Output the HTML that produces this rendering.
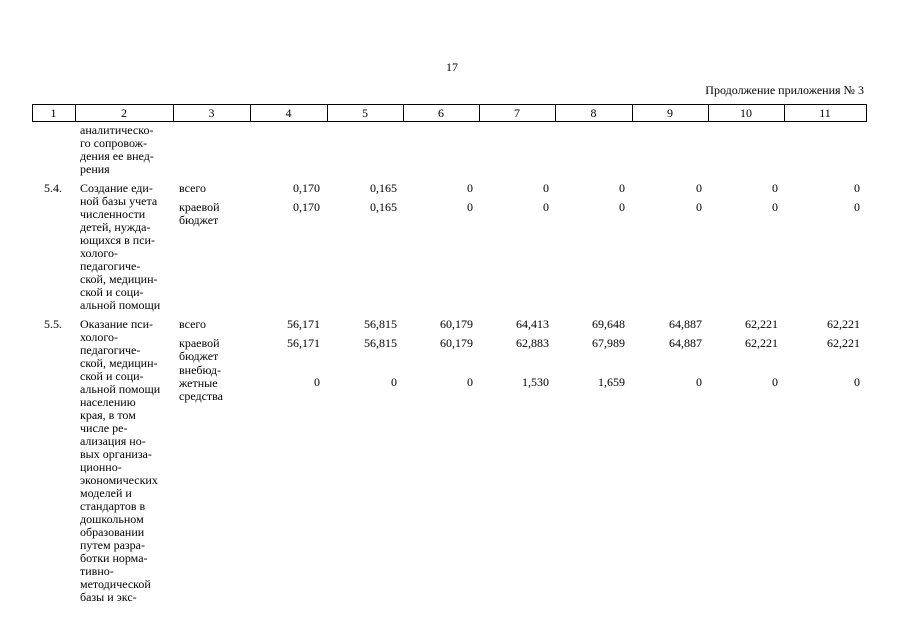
<!DOCTYPE html>
<html><head><meta charset="utf-8"><style>
body{margin:0;background:#fff;width:905px;height:640px;position:relative;overflow:hidden;font-family:"Liberation Serif",serif;font-size:12px;color:#000;line-height:13px}
.a{position:absolute;white-space:nowrap}
.r{position:absolute;text-align:right;width:70px;white-space:nowrap}
.v{position:absolute;top:104px;height:17px;border-left:1px solid #000}
.h{position:absolute;top:105px;height:16px;line-height:16px;text-align:center}
</style></head><body>
<div class="a" style="left:446px;top:61px;font-size:12px">17</div>
<div class="a" style="right:41px;top:84px;font-size:12px">Продолжение приложения № 3</div>
<div style="position:absolute;left:32px;top:104px;width:833px;height:16px;border:1px solid #000"></div>
<div class="v" style="left:75px"></div><div class="v" style="left:173px"></div><div class="v" style="left:250px"></div><div class="v" style="left:327px"></div><div class="v" style="left:403px"></div><div class="v" style="left:479px"></div><div class="v" style="left:555px"></div><div class="v" style="left:632px"></div><div class="v" style="left:708px"></div><div class="v" style="left:784px"></div>
<div class="h" style="left:32px;width:43px">1</div><div class="h" style="left:75px;width:98px">2</div><div class="h" style="left:173px;width:77px">3</div><div class="h" style="left:250px;width:77px">4</div><div class="h" style="left:327px;width:76px">5</div><div class="h" style="left:403px;width:76px">6</div><div class="h" style="left:479px;width:76px">7</div><div class="h" style="left:555px;width:77px">8</div><div class="h" style="left:632px;width:76px">9</div><div class="h" style="left:708px;width:76px">10</div><div class="h" style="left:784px;width:82px">11</div>

<div class="a" style="left:80px;top:124px">аналитическо-<br>го сопровож-<br>дения ее внед-<br>рения</div>

<div class="a" style="left:44px;top:182px">5.4.</div>
<div class="a" style="left:80px;top:182px">Создание еди-<br>ной базы учета<br>численности<br>детей, нужда-<br>ющихся в пси-<br>холого-<br>педагогиче-<br>ской, медицин-<br>ской и соци-<br>альной помощи</div>
<div class="a" style="left:179px;top:182px">всего</div>
<div class="a" style="left:179px;top:201px">краевой<br>бюджет</div>

<div class="a" style="left:44px;top:318px">5.5.</div>
<div class="a" style="left:80px;top:318px">Оказание пси-<br>холого-<br>педагогиче-<br>ской, медицин-<br>ской и соци-<br>альной помощи<br>населению<br>края, в том<br>числе ре-<br>ализация но-<br>вых организа-<br>ционно-<br>экономических<br>моделей и<br>стандартов в<br>дошкольном<br>образовании<br>путем разра-<br>ботки норма-<br>тивно-<br>методической<br>базы и экс-</div>
<div class="a" style="left:179px;top:318px">всего</div>
<div class="a" style="left:179px;top:337px">краевой<br>бюджет</div>
<div class="a" style="left:179px;top:364px">внебюд-<br>жетные<br>средства</div>

<div id="nums"></div>
<script>
var xs=[320,397,473,549,625,702,778,860];
var rows=[[182,["0,170","0,165","0","0","0","0","0","0"]],[201,["0,170","0,165","0","0","0","0","0","0"]],
[318,["56,171","56,815","60,179","64,413","69,648","64,887","62,221","62,221"]],
[337,["56,171","56,815","60,179","62,883","67,989","64,887","62,221","62,221"]],
[376,["0","0","0","1,530","1,659","0","0","0"]]];
var h="";rows.forEach(function(r){r[1].forEach(function(v,i){h+='<div class="r" style="left:'+(xs[i]-70)+'px;top:'+r[0]+'px">'+v+'</div>';});});
document.getElementById("nums").innerHTML=h;
</script>
</body></html>
